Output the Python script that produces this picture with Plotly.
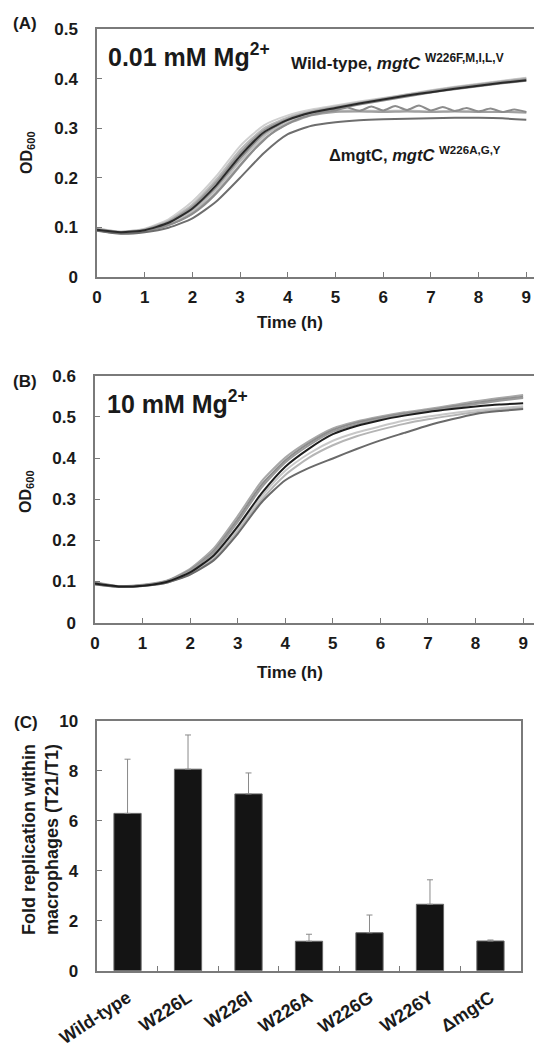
import plotly.graph_objects as go

W, H = 534, 1045

# ---- panel A: 0.01 mM Mg2+ growth curves (OD600 vs time, h) ----
time_h = [0, 0.5, 1, 1.5, 2, 2.5, 3, 3.5, 4, 4.5, 5, 5.5, 6, 6.5, 7, 7.5, 8, 8.5, 9]

lowmg_wt_1 = [0.098, 0.091, 0.097, 0.116, 0.152, 0.203, 0.264, 0.306, 0.326, 0.338, 0.346, 0.354, 0.361, 0.369, 0.377, 0.384, 0.390, 0.396, 0.402]
lowmg_wt_2 = [0.096, 0.090, 0.095, 0.111, 0.142, 0.191, 0.250, 0.296, 0.319, 0.333, 0.342, 0.351, 0.359, 0.367, 0.375, 0.382, 0.388, 0.394, 0.399]
lowmg_wt_3 = [0.095, 0.090, 0.094, 0.109, 0.138, 0.185, 0.244, 0.292, 0.317, 0.332, 0.341, 0.350, 0.358, 0.366, 0.373, 0.380, 0.386, 0.392, 0.397]
lowmg_wt_4 = [0.097, 0.091, 0.096, 0.113, 0.146, 0.196, 0.256, 0.300, 0.322, 0.335, 0.344, 0.352, 0.360, 0.368, 0.376, 0.383, 0.389, 0.395, 0.401]
lowmg_wt_5 = [0.094, 0.089, 0.093, 0.107, 0.134, 0.180, 0.238, 0.288, 0.314, 0.330, 0.339, 0.348, 0.356, 0.364, 0.372, 0.379, 0.385, 0.391, 0.396]
lowmg_mut_1 = [0.095, 0.089, 0.093, 0.106, 0.132, 0.176, 0.233, 0.284, 0.313, 0.328, 0.335, 0.336, 0.335, 0.336, 0.334, 0.335, 0.334, 0.333, 0.332]
lowmg_mut_2 = [0.094, 0.088, 0.092, 0.104, 0.128, 0.170, 0.226, 0.278, 0.309, 0.326, 0.333, 0.334, 0.333, 0.334, 0.333, 0.334, 0.333, 0.333, 0.332]
lowmg_mut_low = [0.093, 0.087, 0.090, 0.099, 0.118, 0.152, 0.200, 0.250, 0.288, 0.305, 0.312, 0.316, 0.318, 0.319, 0.320, 0.321, 0.321, 0.320, 0.317]

# jagged mutant trace, read at quarter-hour steps
time_q = [0, 0.25, 0.5, 0.75, 1, 1.25, 1.5, 1.75, 2, 2.25, 2.5, 2.75, 3, 3.25, 3.5, 3.75, 4, 4.25, 4.5,
          4.75, 5, 5.25, 5.5, 5.75, 6, 6.25, 6.5, 6.75, 7, 7.25, 7.5, 7.75, 8, 8.25, 8.5, 8.75, 9]
lowmg_mut_jag = [0.094, 0.090, 0.089, 0.090, 0.093, 0.098, 0.105, 0.114, 0.127, 0.145, 0.168, 0.195, 0.224, 0.252,
                 0.276, 0.296, 0.309, 0.320, 0.327, 0.333, 0.336, 0.342, 0.335, 0.344, 0.336, 0.345, 0.337, 0.346,
                 0.336, 0.343, 0.335, 0.341, 0.334, 0.340, 0.333, 0.338, 0.333]

# ---- panel B: 10 mM Mg2+ growth curves ----
himg_1 = [0.099, 0.089, 0.092, 0.102, 0.131, 0.181, 0.259, 0.343, 0.401, 0.441, 0.472, 0.489, 0.501, 0.511, 0.519, 0.528, 0.538, 0.546, 0.553]
himg_2 = [0.097, 0.088, 0.091, 0.101, 0.128, 0.175, 0.251, 0.335, 0.394, 0.436, 0.468, 0.486, 0.498, 0.508, 0.516, 0.525, 0.534, 0.542, 0.549]
himg_3 = [0.096, 0.088, 0.091, 0.100, 0.126, 0.171, 0.245, 0.328, 0.389, 0.431, 0.464, 0.482, 0.495, 0.505, 0.514, 0.522, 0.531, 0.539, 0.546]
himg_black = [0.095, 0.088, 0.090, 0.099, 0.122, 0.164, 0.234, 0.314, 0.379, 0.423, 0.458, 0.478, 0.492, 0.503, 0.512, 0.519, 0.525, 0.530, 0.533]
himg_4 = [0.094, 0.087, 0.090, 0.098, 0.120, 0.160, 0.228, 0.306, 0.369, 0.411, 0.442, 0.462, 0.477, 0.491, 0.501, 0.509, 0.516, 0.521, 0.526]
himg_5 = [0.094, 0.087, 0.089, 0.097, 0.118, 0.156, 0.222, 0.298, 0.359, 0.401, 0.431, 0.453, 0.469, 0.483, 0.494, 0.503, 0.511, 0.517, 0.522]
himg_low = [0.093, 0.087, 0.089, 0.097, 0.117, 0.152, 0.216, 0.292, 0.346, 0.376, 0.399, 0.422, 0.443, 0.461, 0.479, 0.494, 0.507, 0.514, 0.519]

# ---- panel C: fold replication within macrophages ----
strains = ["Wild-type", "W226L", "W226I", "W226A", "W226G", "W226Y", "ΔmgtC"]
fold_rep = [6.3, 8.07, 7.08, 1.18, 1.52, 2.66, 1.19]
fold_err = [2.17, 1.37, 0.84, 0.28, 0.71, 0.98, 0.04]


def px(x):
    return x / W


def py(y):
    return 1 - y / H


fig = go.Figure()

lowmg_curves = [
    (time_h, lowmg_wt_1, "#d0d0d0"),
    (time_h, lowmg_wt_4, "#b8b8b8"),
    (time_h, lowmg_wt_2, "#999999"),
    (time_h, lowmg_wt_5, "#8a8a8a"),
    (time_h, lowmg_mut_1, "#bdbdbd"),
    (time_h, lowmg_mut_2, "#a0a0a0"),
    (time_q, lowmg_mut_jag, "#8c8c8c"),
    (time_h, lowmg_mut_low, "#6e6e6e"),
    (time_h, lowmg_wt_3, "#2a2a2a"),
]
for t, y, c in lowmg_curves:
    fig.add_trace(go.Scatter(x=t, y=y, mode="lines", line=dict(color=c, width=2, shape="spline", smoothing=0.6),
                             xaxis="x", yaxis="y", showlegend=False))

himg_curves = [
    (himg_1, "#a8a8a8"),
    (himg_2, "#8c8c8c"),
    (himg_3, "#9a9a9a"),
    (himg_4, "#c8c8c8"),
    (himg_5, "#b5b5b5"),
    (himg_low, "#6a6a6a"),
    (himg_black, "#1e1e1e"),
]
for y, c in himg_curves:
    fig.add_trace(go.Scatter(x=time_h, y=y, mode="lines", line=dict(color=c, width=2, shape="spline", smoothing=0.6),
                             xaxis="x2", yaxis="y2", showlegend=False))

fig.add_trace(go.Bar(x=strains, y=fold_rep, width=0.45,
                     marker=dict(color="#141414", line=dict(color="#666666", width=1)),
                     error_y=dict(type="data", array=fold_err, arrayminus=[0] * len(fold_err), symmetric=False,
                                  color="#8a8a8a", thickness=1, width=3),
                     xaxis="x3", yaxis="y3", showlegend=False))

axis_common = dict(showline=True, linecolor="#7a7a7a", linewidth=1.5, mirror=True, showgrid=False,
                   zeroline=False, ticks="inside", ticklen=5, tickcolor="#7a7a7a", automargin=False,
                   tickfont=dict(size=17, color="#1a1a1a", weight="bold"))

fig.update_layout(
    width=W, height=H,
    margin=dict(l=0, r=0, t=0, b=0),
    paper_bgcolor="white", plot_bgcolor="white",
    font=dict(family="Liberation Sans, Arial, sans-serif", color="#1a1a1a", weight="bold"),
    xaxis=dict(axis_common, domain=[px(97), 1.0], range=[0, (W - 97) / 47.7], tickvals=list(range(10)),
               ticklabelstandoff=4, anchor="y"),
    yaxis=dict(axis_common, domain=[py(276.7), py(29.3)], range=[0, 0.5],
               tickvals=[0, 0.1, 0.2, 0.3, 0.4, 0.5], ticktext=["0", "0.1", "0.2", "0.3", "0.4", "0.5"],
               ticklabelstandoff=14, anchor="x"),
    xaxis2=dict(axis_common, domain=[px(95), 1.0], range=[0, (W - 95) / 47.57], tickvals=list(range(10)),
                ticklabelstandoff=4, anchor="y2"),
    yaxis2=dict(axis_common, domain=[py(622.7), py(375.7)], range=[0, 0.6],
                tickvals=[0, 0.1, 0.2, 0.3, 0.4, 0.5, 0.6],
                ticktext=["0", "0.1", "0.2", "0.3", "0.4", "0.5", "0.6"], ticklabelstandoff=14, anchor="x2"),
    xaxis3=dict(axis_common, domain=[px(97.3), px(520.7)], range=[-0.5, 6.5], tickson="boundaries",
                tickangle=-33, tickfont=dict(size=18, color="#1a1a1a", weight="bold"),
                ticklabelstandoff=8, anchor="y3"),
    yaxis3=dict(axis_common, domain=[py(970.7), py(721)], range=[0, 10], dtick=2,
                ticklabelstandoff=14, anchor="x3"),
)

ann = [
    dict(text="(A)", x=px(25), y=py(23), font=dict(size=17)),
    dict(text="(B)", x=px(25), y=py(381), font=dict(size=17)),
    dict(text="(C)", x=px(26), y=py(722), font=dict(size=17)),
    dict(text="0.01 mM Mg<sup>2+</sup>", x=px(106), y=py(55), xanchor="left", font=dict(size=25)),
    dict(text="Wild-type, <i>mgtC</i> <sup>W226F,M,I,L,V</sup>", x=px(289), y=py(62), xanchor="left",
         font=dict(size=17)),
    dict(text="ΔmgtC, <i>mgtC</i> <sup>W226A,G,Y</sup>", x=px(327), y=py(154), xanchor="left",
         font=dict(size=16.5)),
    dict(text="10 mM Mg<sup>2+</sup>", x=px(105), y=py(402), xanchor="left", font=dict(size=25)),
    dict(text="OD<sub>600</sub>", x=px(27), y=py(153), textangle=-90, font=dict(size=16)),
    dict(text="OD<sub>600</sub>", x=px(27), y=py(492), textangle=-90, font=dict(size=16)),
    dict(text="Time (h)", x=px(290), y=py(322), font=dict(size=17)),
    dict(text="Time (h)", x=px(290), y=py(672), font=dict(size=17)),
    dict(text="Fold replication within<br>macrophages (T21/T1)", x=px(40), y=py(840), textangle=-90,
         font=dict(size=18)),
]
for a in ann:
    a.setdefault("xanchor", "center")
    fig.add_annotation(xref="paper", yref="paper", showarrow=False, yanchor="middle", **a)

# drop the browser's default 8px body margin so the figure sits at the page origin
fig.write_html("out.html", config={"displayModeBar": False},
               post_script="document.body.style.margin='0px';")
